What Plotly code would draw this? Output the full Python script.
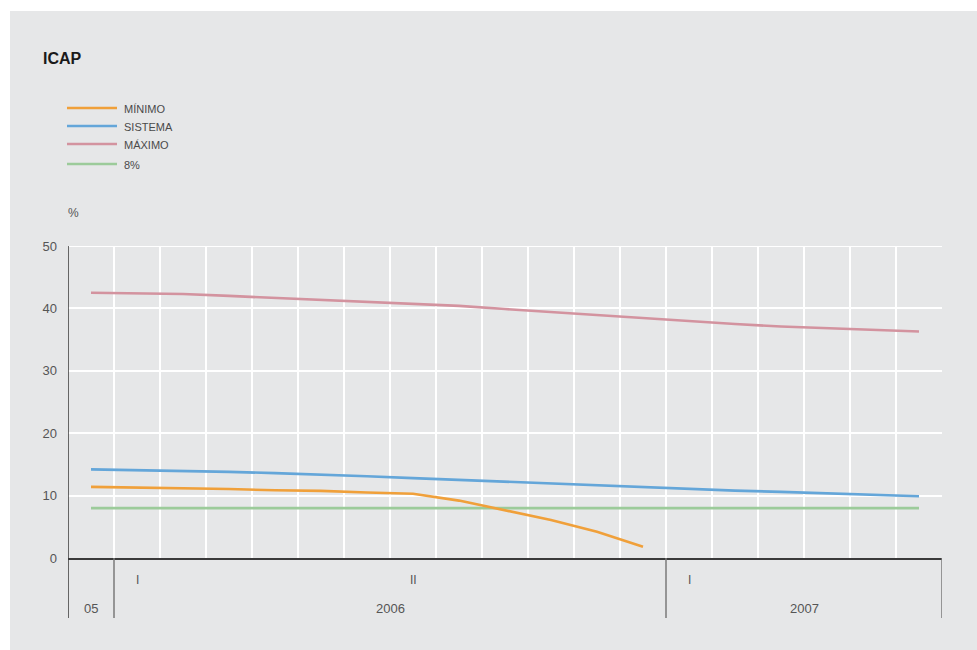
import plotly.graph_objects as go

# ---------------- data ----------------
months = ["dic-05", "ene-06", "feb-06", "mar-06", "abr-06", "may-06", "jun-06",
          "jul-06", "ago-06", "sep-06", "oct-06", "nov-06", "dic-06",
          "ene-07", "feb-07", "mar-07", "abr-07", "may-07", "jun-07"]

minimo = [11.4, 11.3, 11.2, 11.05, 10.85, 10.75, 10.5, 10.3, 9.2, 7.6, 6.1, 4.2, 1.8]
sistema = [14.2, 14.1, 14.0, 13.8, 13.6, 13.4, 13.1, 12.8, 12.5, 12.2,
           12.0, 11.7, 11.3, 11.1, 10.8, 10.6, 10.4, 10.2, 9.9]
maximo = [42.5, 42.4, 42.3, 42.0, 41.7, 41.4, 41.1, 40.8, 40.4, 39.9,
          39.4, 38.9, 38.4, 37.9, 37.5, 37.1, 36.8, 36.5, 36.3]
limite = [8, 8, 8, 8, 8, 8, 8, 8, 8, 8, 8, 8, 8, 8, 8, 8, 8, 8, 8]

series_names = ["MÍNIMO", "SISTEMA", "MÁXIMO", "8%"]
series_colors = ["#f0a03a", "#64a6d9", "#d3939f", "#9ccb9a"]

semester_labels = ["I", "II", "I"]
semester_months = ["ene-06", "jul-06", "ene-07"]
year_labels = ["05", "2006", "2007"]
year_spans = [("dic-05", "dic-05"), ("ene-06", "dic-06"), ("ene-07", "jun-07")]

y_ticks = [0, 10, 20, 30, 40, 50]

# ---------------- layout geometry ----------------
W, H = 977, 650
ML, MR, MT, MB = 68, 35, 246, 92
PW, PH = W - ML - MR, H - MT - MB
FONT = "Liberation Sans, Arial, Helvetica, sans-serif"
BG = "#e6e7e8"


def px2x(px):
    return (px - ML) / PW


def py2y(py):
    return (H - MB - py) / PH


idx = {m: i for i, m in enumerate(months)}
xs = list(range(len(months)))

fig = go.Figure()
data = [minimo, sistema, maximo, limite]
order = [3, 2, 1, 0]
for k in order:
    vals = data[k]
    fig.add_trace(go.Scatter(
        x=xs[:len(vals)], y=vals, mode="lines", name=series_names[k],
        line=dict(color=series_colors[k], width=2.6),
        showlegend=False, hoverinfo="skip"))

shapes = []
# white strips (top/left) around the gray panel
shapes.append(dict(type="rect", xref="paper", yref="paper",
                   x0=px2x(0), x1=px2x(W + 2), y0=py2y(11), y1=py2y(-2),
                   fillcolor="white", line=dict(width=0), layer="below"))
shapes.append(dict(type="rect", xref="paper", yref="paper",
                   x0=px2x(-2), x1=px2x(10), y0=py2y(H + 2), y1=py2y(-2),
                   fillcolor="white", line=dict(width=0), layer="below"))

# top gridline at the upper end of the value range
shapes.append(dict(type="line", xref="x", yref="y", x0=-0.5, x1=len(months) - 0.5,
                   y0=y_ticks[-1], y1=y_ticks[-1],
                   line=dict(color="white", width=2), layer="below"))

lower = py2y(618)
# y-axis line extension down into the label band
shapes.append(dict(type="line", xref="x", yref="paper", x0=-0.5, x1=-0.5,
                   y0=lower, y1=1, line=dict(color="#3a3a3a", width=1.5)))
# separators between year groups
for a, b in year_spans[1:]:
    shapes.append(dict(type="line", xref="x", yref="paper",
                       x0=idx[a] - 0.5, x1=idx[a] - 0.5, y0=lower, y1=0,
                       line=dict(color="#7a7a7a", width=1.5)))
shapes.append(dict(type="line", xref="x", yref="paper",
                   x0=len(months) - 0.5, x1=len(months) - 0.5, y0=lower, y1=0,
                   line=dict(color="#7a7a7a", width=1.5)))

annotations = []
# title
annotations.append(dict(text="<b>ICAP</b>", xref="paper", yref="paper",
                        x=px2x(41), y=py2y(59), xanchor="left", yanchor="middle",
                        showarrow=False, font=dict(family=FONT, size=16, color="#1a1a1a")))
# unit label
annotations.append(dict(text="%", xref="paper", yref="paper",
                        x=px2x(66), y=py2y(213), xanchor="left", yanchor="middle",
                        showarrow=False, font=dict(family=FONT, size=12, color="#555555")))

# manual legend
legend_rows = [108, 126, 144, 164]
for name, color, py in zip(series_names, series_colors, legend_rows):
    shapes.append(dict(type="line", xref="paper", yref="paper",
                       x0=px2x(67), x1=px2x(117), y0=py2y(py), y1=py2y(py),
                       line=dict(color=color, width=2.6)))
    annotations.append(dict(text=name, xref="paper", yref="paper",
                            x=px2x(122), y=py2y(py + 0.5), xanchor="left", yanchor="middle",
                            showarrow=False,
                            font=dict(family=FONT, size=11, color="#4a4a4a")))

# semester labels
for lab, m in zip(semester_labels, semester_months):
    annotations.append(dict(text=lab, xref="x", yref="paper", x=idx[m], y=py2y(580),
                            xanchor="center", yanchor="middle", showarrow=False,
                            font=dict(family=FONT, size=12, color="#555555")))
# year labels
for lab, (a, b) in zip(year_labels, year_spans):
    annotations.append(dict(text=lab, xref="x", yref="paper",
                            x=(idx[a] + idx[b]) / 2, y=py2y(608),
                            xanchor="center", yanchor="middle", showarrow=False,
                            font=dict(family=FONT, size=13, color="#555555")))

fig.update_layout(
    width=W, height=H,
    margin=dict(l=ML, r=MR, t=MT, b=MB, pad=0),
    paper_bgcolor=BG, plot_bgcolor=BG,
    font=dict(family=FONT, color="#555555"),
    shapes=shapes, annotations=annotations,
    showlegend=False,
    xaxis=dict(range=[-0.5, len(months) - 0.5], tickmode="array",
               tickvals=[i - 0.5 for i in range(len(months) + 1)],
               showticklabels=False, ticks="",
               showgrid=True, gridcolor="white", gridwidth=2,
               zeroline=False, showline=True, linecolor="#3a3a3a", linewidth=1.5,
               fixedrange=True),
    yaxis=dict(range=[0, 50], tickmode="array", tickvals=y_ticks,
               ticktext=[str(v) for v in y_ticks],
               showgrid=True, gridcolor="white", gridwidth=2,
               zeroline=False, showline=False, ticks="",
               ticklabelstandoff=10,
               tickfont=dict(family=FONT, size=13, color="#555555"),
               fixedrange=True),
)

fig.write_html("out.html", config={"displayModeBar": False})
